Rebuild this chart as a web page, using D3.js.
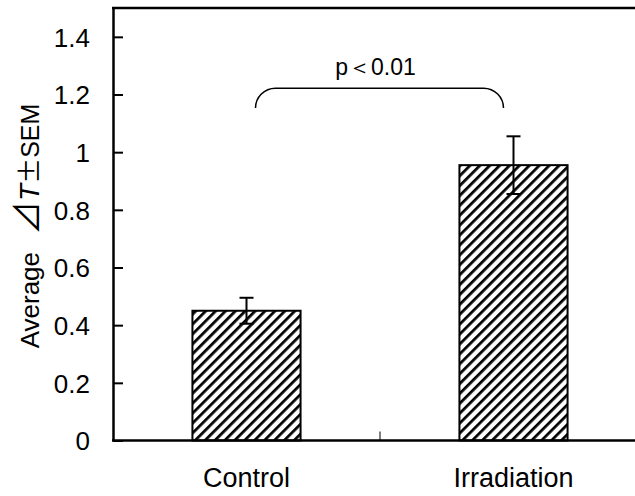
<!DOCTYPE html>
<html>
<head>
<meta charset="utf-8">
<script src="https://cdn.jsdelivr.net/npm/d3@7"></script>
<style>
  body { margin: 0; background: #fff; }
  text { font-family: "Liberation Sans", Arial, sans-serif; fill: #000; }
</style>
</head>
<body>
<div id="chart"></div>
<script>
// data
var groups = ["Control", "Irradiation"];
var means = [0.45, 0.955];
var sems = [0.045, 0.1];
var tickValues = [0, 0.2, 0.4, 0.6, 0.8, 1, 1.2, 1.4];
var tickLabels = ["0", "0.2", "0.4", "0.6", "0.8", "1", "1.2", "1.4"];
var bracketTop = 1.222, bracketEnd = 1.153; // significance bracket levels
var pText = "p＜0.01";

var svgWidth = 635, svgHeight = 496;
var plotLeft = 113, plotTop = 8, plotBottom = 440.5, plotRight = 647; // plot box runs off the right edge

var svg = d3.select("#chart").append("svg")
    .attr("width", svgWidth)
    .attr("height", svgHeight);

var x = d3.scaleBand().domain(groups).range([plotLeft, plotRight]).paddingInner(0).paddingOuter(0);
var y = d3.scaleLinear().domain([0, 1.5]).range([plotBottom, plotTop]);
var barW = x.bandwidth() * 0.405;

// hatch pattern
var defs = svg.append("defs");
var pat = defs.append("pattern")
    .attr("id", "hatch")
    .attr("patternUnits", "userSpaceOnUse")
    .attr("width", 7).attr("height", 7)
    .attr("patternTransform", "rotate(45)");
pat.append("rect").attr("width", 7).attr("height", 7).attr("fill", "#fff");
pat.append("line")
    .attr("x1", 0).attr("y1", 0).attr("x2", 0).attr("y2", 7)
    .attr("stroke", "#000").attr("stroke-width", 5.5);

// bars
svg.selectAll(".bar")
    .data(groups)
    .enter().append("rect")
    .attr("class", "bar")
    .attr("x", function(d) { return x(d) + x.bandwidth() / 2 - barW / 2; })
    .attr("y", function(d, i) { return y(means[i]); })
    .attr("width", barW)
    .attr("height", function(d, i) { return plotBottom - y(means[i]); })
    .attr("fill", "url(#hatch)")
    .attr("stroke", "#000")
    .attr("stroke-width", 2);

// error bars
var capW = 7;
var err = svg.selectAll(".err")
    .data(groups)
    .enter().append("g")
    .attr("class", "err")
    .attr("stroke", "#000")
    .attr("stroke-width", 2);
err.append("line")
    .attr("x1", function(d) { return x(d) + x.bandwidth() / 2; })
    .attr("x2", function(d) { return x(d) + x.bandwidth() / 2; })
    .attr("y1", function(d, i) { return y(means[i] + sems[i]); })
    .attr("y2", function(d, i) { return y(means[i] - sems[i]); });
err.append("line")
    .attr("x1", function(d) { return x(d) + x.bandwidth() / 2 - capW; })
    .attr("x2", function(d) { return x(d) + x.bandwidth() / 2 + capW; })
    .attr("y1", function(d, i) { return y(means[i] + sems[i]); })
    .attr("y2", function(d, i) { return y(means[i] + sems[i]); });
err.append("line")
    .attr("x1", function(d) { return x(d) + x.bandwidth() / 2 - capW; })
    .attr("x2", function(d) { return x(d) + x.bandwidth() / 2 + capW; })
    .attr("y1", function(d, i) { return y(means[i] - sems[i]); })
    .attr("y2", function(d, i) { return y(means[i] - sems[i]); });

// y axis, ticks pointing inward
var yAxis = svg.append("g")
    .attr("transform", "translate(" + plotLeft + ",0)")
    .call(d3.axisLeft(y)
        .tickValues(tickValues)
        .tickFormat(function(d, i) { return tickLabels[i]; })
        .tickSizeInner(-10).tickSizeOuter(0).tickPadding(23));
yAxis.select(".domain").attr("stroke-width", 2.5);
yAxis.selectAll(".tick line").attr("stroke-width", 2);
yAxis.selectAll(".tick text").style("font-size", "26px").attr("dy", "0.36em");

// top border
svg.append("line")
    .attr("x1", plotLeft - 1).attr("x2", svgWidth)
    .attr("y1", plotTop).attr("y2", plotTop)
    .attr("stroke", "#000").attr("stroke-width", 2.5);

// x axis
var xAxis = svg.append("g")
    .attr("transform", "translate(0," + plotBottom + ")")
    .call(d3.axisBottom(x).tickSize(0).tickPadding(21));
xAxis.select(".domain").remove();
xAxis.selectAll(".tick text").style("font-size", "27px").attr("dy", "0.95em");
svg.append("line")
    .attr("x1", plotLeft - 1).attr("x2", svgWidth)
    .attr("y1", plotBottom).attr("y2", plotBottom)
    .attr("stroke", "#000").attr("stroke-width", 2.5);
// category divider tick
svg.append("line")
    .attr("x1", x(groups[1])).attr("x2", x(groups[1]))
    .attr("y1", plotBottom).attr("y2", plotBottom - 9)
    .attr("stroke", "#000").attr("stroke-width", 1);

// significance bracket
var bx1 = x(groups[0]) + x.bandwidth() / 2 + 9,
    bx2 = x(groups[1]) + x.bandwidth() / 2 - 10,
    by1 = y(bracketTop), by2 = y(bracketEnd),
    r = by2 - by1;
svg.append("path")
    .attr("d", "M" + bx1 + "," + by2 +
        " A" + r + "," + r + " 0 0 1 " + (bx1 + r) + "," + by1 +
        " L" + (bx2 - r) + "," + by1 +
        " A" + r + "," + r + " 0 0 1 " + bx2 + "," + by2)
    .attr("fill", "none")
    .attr("stroke", "#000")
    .attr("stroke-width", 1.5);
svg.append("text")
    .attr("x", (bx1 + bx2) / 2 - 4)
    .attr("y", by1 - 13)
    .attr("text-anchor", "middle")
    .style("font-size", "23px")
    .text(pText);

// y label
var yl = svg.append("text")
    .attr("transform", "translate(39," + 226 + ") rotate(-90)")
    .attr("text-anchor", "middle");
yl.append("tspan").style("font-size", "26px").text("Average");
yl.append("tspan").attr("dx", 17).style("font-size", "34px").style("font-family", "'Noto Sans CJK JP'").text("⊿");
yl.append("tspan").style("font-size", "28px").style("font-style", "italic").text("T");
yl.append("tspan").style("font-size", "26px").style("font-family", "'Noto Sans CJK JP'").text("±");
yl.append("tspan").style("font-size", "25px").text("SEM");
</script>
</body>
</html>
